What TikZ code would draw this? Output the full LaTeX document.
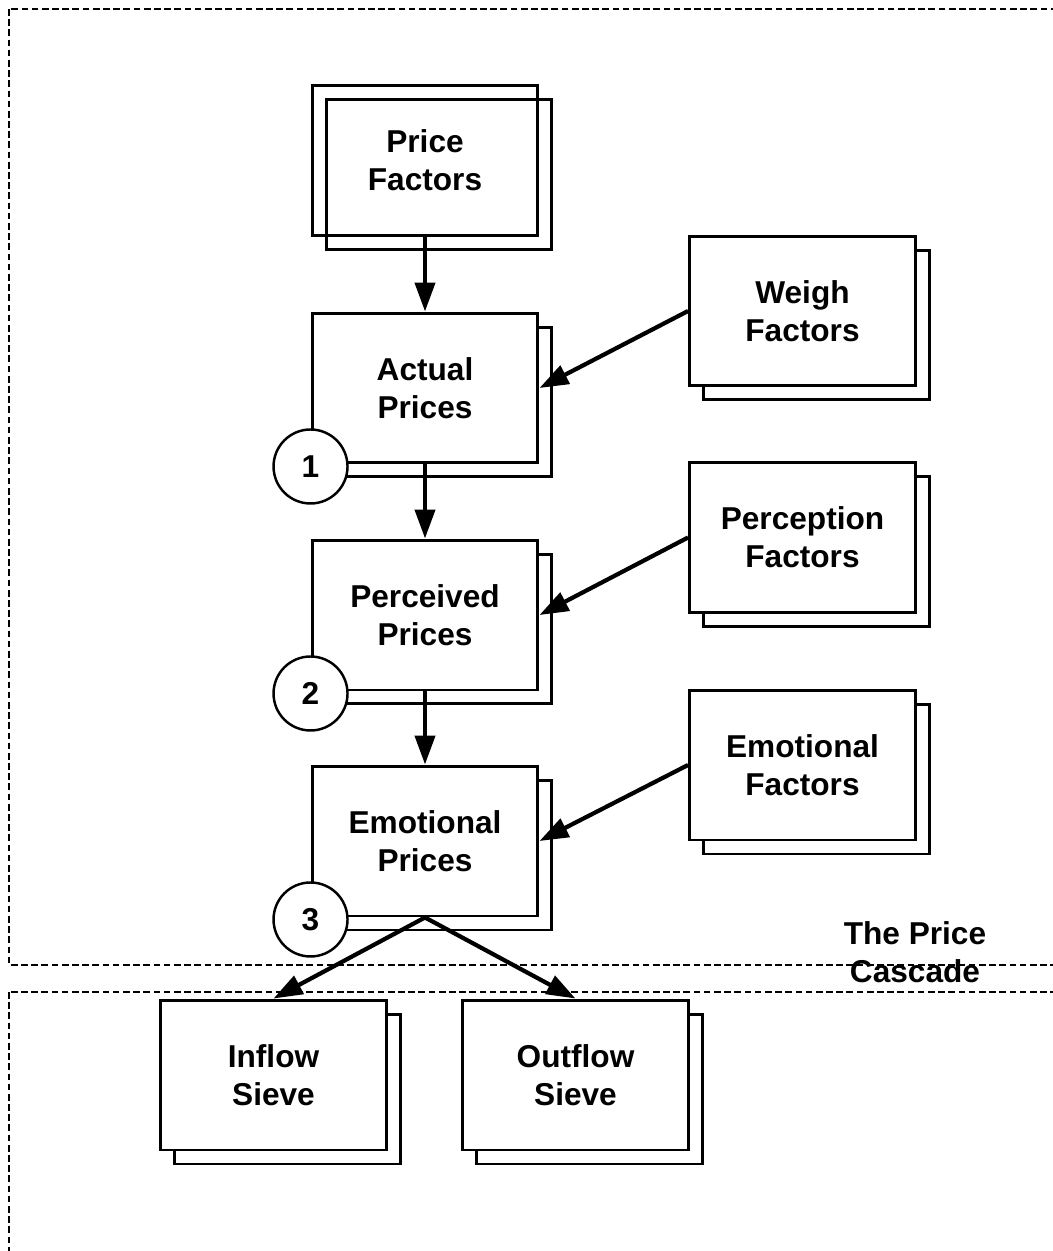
\documentclass[tikz,border=0pt]{standalone}
\usepackage{fontspec}
\setmainfont{Liberation Sans}
\usetikzlibrary{arrows.meta,shadows}

\begin{document}
\begin{tikzpicture}[x=0.02cm, y=-0.02cm,
		lbl/.style={align=center, font=\fontsize{18}{21.6}\selectfont\bfseries},
		stage/.style={lbl, draw, line width=1.7pt, minimum width=4.52cm, minimum height=3cm, inner sep=0pt},
		box/.style={stage, fill=white,
			general shadow={shadow xshift=0.28cm, shadow yshift=-0.28cm, draw=black, fill=white, line width=1.7pt}},
		openbox/.style={stage,
			general shadow={shadow xshift=0.28cm, shadow yshift=-0.28cm, draw=black, line width=1.7pt}},
		num/.style={lbl, circle, draw, fill=white, line width=1.4pt, minimum size=1.48cm, inner sep=0pt},
		flow/.style={line width=2.4pt, -{Triangle[length=0.58cm, width=0.4cm]}},
		frame/.style={dashed, line width=1.3pt, dash pattern=on 3.8pt off 2pt}]
		\useasboundingbox (0,0) rectangle (1053,1251);
		% dashed areas
		\draw[frame] (9,9) rectangle (1065,965);
		\draw[frame] (9,992) rectangle (1065,1265);
		% cascade
		\node[openbox] (pf) at (425,160.5) {Price\\Factors};
		\node[box] (actual) at (425,388) {Actual\\Prices};
		\node[box] (perceived) at (425,615) {Perceived\\Prices};
		\node[box] (emotional) at (425,841) {Emotional\\Prices};
		% factors on the right
		\node[box] (weigh) at (802.5,311) {Weigh\\Factors};
		\node[box] (perception) at (802.5,537.5) {Perception\\Factors};
		\node[box] (emofac) at (802.5,765) {Emotional\\Factors};
		% sieves
		\node[box] (inflow) at (273.5,1075) {Inflow\\Sieve};
		\node[box] (outflow) at (575.5,1075) {Outflow\\Sieve};
		% numbered steps
		\node[num] (n1) at ([yshift=-0.04cm]actual.south west) {1};
		\node[num] (n2) at ([yshift=-0.04cm]perceived.south west) {2};
		\node[num] (n3) at ([yshift=-0.04cm]emotional.south west) {3};
		\node[lbl] (title) at (915,952) {The Price\\Cascade};
		% connectors
		\draw[flow] (pf.south) -- (actual.north);
		\draw[flow] (actual.south) -- (perceived.north);
		\draw[flow] (perceived.south) -- (emotional.north);
		\draw[flow] (weigh.west) -- (actual.east);
		\draw[flow] (perception.west) -- (perceived.east);
		\draw[flow] (emofac.west) -- (emotional.east);
		\draw[flow] (emotional.south) -- (inflow.north);
		\draw[flow] (emotional.south) -- (outflow.north);
	\end{tikzpicture}
\end{document}
